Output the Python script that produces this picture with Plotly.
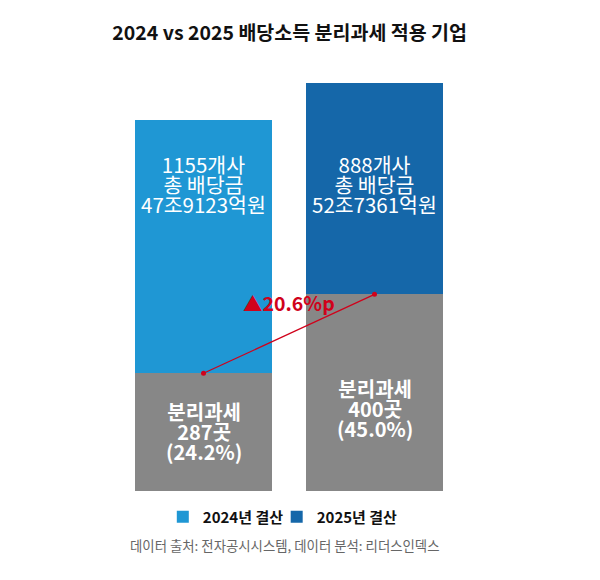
import plotly.graph_objects as go

# 값
years = ['2024년 결산', '2025년 결산']
total_div = [47.9123, 52.7361]          # 총 배당금 (조원) -> 막대 전체 높이
sep_height = [15.2, 25.4]               # 회색(분리과세) 구간 높이, 그림에서 추정
top_labels = [['1155개사', '총 배당금', '47조9123억원'],
              ['888개사', '총 배당금', '52조7361억원']]
sep_labels = [['분리과세', '287곳', '(24.2%)'],
              ['분리과세', '400곳', '(45.0%)']]
change_label = '▲20.6%p'

blue = ['#1f97d4', '#1567a9']
gray = '#878787'
red = '#d0021b'
font = 'Noto Sans CJK KR'


def block(lines, size, bold=False):
    # 줄 간격은 바깥 글꼴 크기로, 글자 크기는 span으로
    out = []
    for t in lines:
        s = '<span style="font-size:%spx">%s</span>' % (size, t)
        out.append('<b>%s</b>' % s if bold else s)
    return '<br>'.join(out)


fig = go.Figure()

# 회색 구간 (분리과세)
fig.add_trace(go.Bar(x=years, y=sep_height, marker_color=gray,
                     marker_line_width=0, showlegend=False, hoverinfo='skip'))

# 연도별 상단 구간 (범례는 각각 따로 배치)
legends = ['legend', 'legend2']
for i, yr in enumerate(years):
    fig.add_trace(go.Bar(x=[yr], y=[total_div[i] - sep_height[i]], name=yr,
                         marker_color=blue[i], marker_line_width=0, legend=legends[i]))

# 증가 표시선
fig.add_trace(go.Scatter(x=years, y=sep_height, mode='lines+markers',
                         line=dict(color=red, width=1.2),
                         marker=dict(color=red, size=5),
                         showlegend=False, hoverinfo='skip'))

annos = []
for i, yr in enumerate(years):
    annos.append(dict(x=yr, y=39.65, text=block(top_labels[i], 20.5), showarrow=False,
                      font=dict(family=font, size=15.4, color='white')))
    annos.append(dict(x=yr, y=[7.75, 10.7][i], text=block(sep_labels[i], 20, True),
                      showarrow=False, font=dict(family=font, size=15.4, color='white')))

annos.append(dict(x=0.5, xref='x', y=24.4, text='<b>%s</b>' % change_label,
                  showarrow=False, font=dict(family=font, size=19.5, color=red)))

annos.append(dict(x=0.488, xref='paper', y=-0.131, yref='paper', yanchor='middle',
                  text='데이터 출처: 전자공시시스템, 데이터 분석: 리더스인덱스',
                  showarrow=False, font=dict(family=font, size=13.4, color='#666666')))

leg_font = dict(family=font, size=15, color='#111111', weight='bold')

fig.update_layout(
    width=592, height=572,
    margin=dict(l=109.5, r=140, t=72, b=89),
    barmode='stack', bargap=0.196,
    plot_bgcolor='white', paper_bgcolor='white',
    title=dict(text='<b>2024 vs 2025 배당소득 분리과세 적용 기업</b>',
               x=0.4757, xanchor='center', y=1 - 25 / 572, yanchor='middle',
               font=dict(family=font, size=19.5, color='#111111')),
    xaxis=dict(visible=False),
    yaxis=dict(visible=False, range=[0, 53.09]),
    legend=dict(orientation='h', x=0.131, xanchor='left', y=-0.063, yanchor='middle',
                font=leg_font, itemclick=False, bgcolor='rgba(0,0,0,0)'),
    legend2=dict(orientation='h', x=0.464, xanchor='left', y=-0.063, yanchor='middle',
                 font=leg_font, itemclick=False, bgcolor='rgba(0,0,0,0)'),
    annotations=annos,
    font=dict(family=font),
)

fig.write_html('out.html')
